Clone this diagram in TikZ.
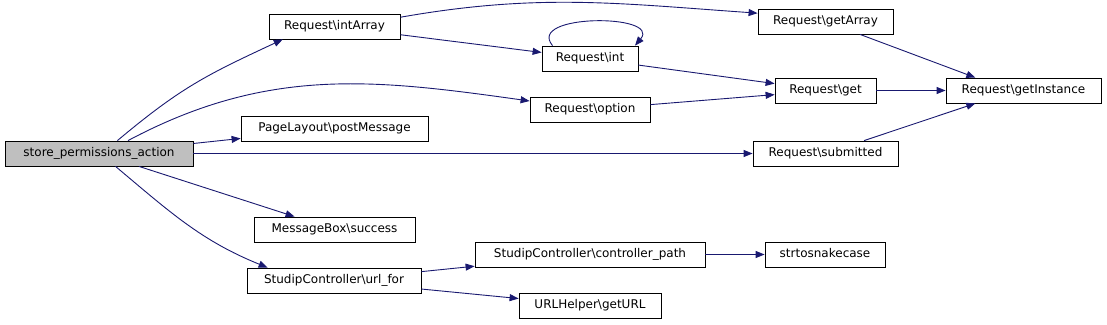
\documentclass[tikz,border=0pt]{standalone}
\usepackage{fontspec}
\setmainfont{DejaVu Sans}
\usetikzlibrary{arrows.meta,positioning}
\definecolor{edgeblue}{RGB}{25,25,112}
\definecolor{curgray}{RGB}{191,191,191}
\tikzset{
  fn/.style={draw=black,line width=0.8pt,fill=white,minimum height=25pt,inner sep=0pt,text height=9pt,text depth=2.5pt,font=\fontsize{12}{14}\selectfont},
  cur/.style={fn,fill=curgray},
  arr/.style={-{Triangle[length=9pt,width=7pt]},draw=edgeblue,line width=0.9pt},
}

\begin{document}
\begin{tikzpicture}[x=1pt,y=1pt]
  \useasboundingbox (0,0) rectangle (1107,324);
  % caller
  \node[cur,minimum width=188pt] (store) at (99,170.5) {store\_permissions\_action};
  % first level
  \node[fn,minimum width=131pt] (intArray) at (334.5,297.5) {Request\textbackslash intArray};
  \node[fn,minimum width=187pt] (postMessage) at (334.5,195.5) {PageLayout\textbackslash postMessage};
  \node[fn,minimum width=161pt] (msgbox) at (334.5,94.5) {MessageBox\textbackslash success};
  \node[fn,minimum width=174pt] (urlfor) at (334,43.5) {StudipController\textbackslash url\_for};
  % second level
  \node[fn,minimum width=96pt] (int) at (590,265.5) {Request\textbackslash int};
  \node[fn,minimum width=120pt] (option) at (590,214.5) {Request\textbackslash option};
  \node[fn,minimum width=230pt] (ctrlpath) at (590,69.5) {StudipController\textbackslash controller\_path};
  \node[fn,minimum width=142pt] (geturl) at (590,18.5) {URLHelper\textbackslash getURL};
  % third level
  \node[fn,minimum width=135pt] (getArray) at (825.5,302.5) {Request\textbackslash getArray};
  \node[fn,minimum width=101pt] (get) at (825.5,233.5) {Request\textbackslash get};
  \node[fn,minimum width=145pt] (submitted) at (825.5,170.5) {Request\textbackslash submitted};
  \node[fn,minimum width=120pt] (snake) at (825,69.5) {strtosnakecase};
  \node[fn,minimum width=155pt] (getInstance) at (1023.5,233.5) {Request\textbackslash getInstance};

  \draw[arr] (store.35) to[out=40,in=205,looseness=1.1] (intArray.194);
  \draw[arr] (store.24) to[out=28,in=172] (option.172);
  \draw[arr] (store) -- (postMessage);
  \draw[arr] (store) -- (submitted);
  \draw[arr] (store) -- (msgbox);
  \draw[arr] (store.-38) to[out=-40,in=158] (urlfor.169);
  \draw[arr] (intArray.8) to[out=10,in=176] (getArray.173);
  \draw[arr] (intArray) -- (int);
  \draw[arr] (int.161) to[out=130,in=50,looseness=1.3] (int.16);
  \draw[arr] (int) -- (get);
  \draw[arr] (option) -- (get);
  \draw[arr] (getArray) -- (getInstance.165);
  \draw[arr] (get) -- (getInstance);
  \draw[arr] (submitted) -- (getInstance.195);
  \draw[arr] (urlfor) -- (ctrlpath);
  \draw[arr] (urlfor) -- (geturl);
  \draw[arr] (ctrlpath) -- (snake);
\end{tikzpicture}
\end{document}
